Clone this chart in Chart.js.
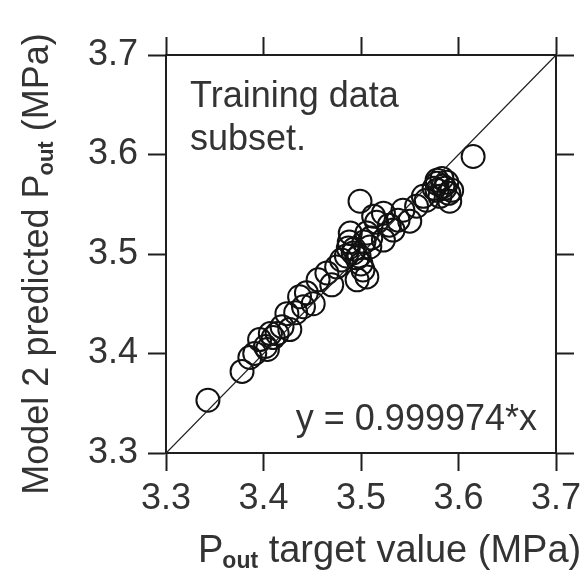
<!DOCTYPE html>
<html>
<head>
<meta charset="utf-8">
<script src="https://cdn.jsdelivr.net/npm/chart.js@4.4.1/dist/chart.umd.min.js"></script>
<style>
  html, body { margin: 0; padding: 0; background: #fff; }
  #wrap { width: 588px; height: 570px; position: relative; }
</style>
</head>
<body>
<div id="wrap"><canvas id="c" width="588" height="570"></canvas></div>
<script>
// ---- data ----
const targetValues = [
  3.343, 3.378, 3.386, 3.391, 3.396, 3.402, 3.407, 3.414, 3.419, 3.424,
  3.427, 3.437, 3.441, 3.444, 3.451, 3.456, 3.465, 3.470, 3.475, 3.480,
  3.487, 3.489, 3.492, 3.496, 3.496, 3.499, 3.502, 3.506, 3.506, 3.509,
  3.513, 3.516, 3.523, 3.523, 3.533, 3.538, 3.543, 3.550, 3.557, 3.564,
  3.567, 3.578, 3.578, 3.581, 3.583, 3.584, 3.590, 3.591, 3.593, 3.615,
  3.488, 3.493, 3.498, 3.503, 3.500, 3.510, 3.485, 3.578, 3.586, 3.588,
  3.575, 3.404, 3.410, 3.433, 3.529
];
const predictedValues = [
  3.353, 3.382, 3.396, 3.400, 3.414, 3.407, 3.420, 3.420, 3.427, 3.440,
  3.424, 3.457, 3.447, 3.461, 3.450, 3.474, 3.481, 3.469, 3.487, 3.494,
  3.506, 3.521, 3.501, 3.496, 3.474, 3.553, 3.484, 3.521, 3.477, 3.507,
  3.538, 3.532, 3.514, 3.541, 3.524, 3.534, 3.544, 3.533, 3.548, 3.558,
  3.554, 3.574, 3.564, 3.558, 3.576, 3.568, 3.561, 3.553, 3.564, 3.598,
  3.512, 3.505, 3.498, 3.512, 3.490, 3.516, 3.498, 3.571, 3.566, 3.572,
  3.566, 3.404, 3.416, 3.441, 3.529
];
const fitLineX = [3.3, 3.7];
const fitLineY = [3.2999, 3.6999];
const tickValues = [3.3, 3.4, 3.5, 3.6, 3.7];
const xTitleMain = "P";
const xTitleSub = "out";
const xTitleRest = " target value (MPa)";
const yTitleMain = "Model 2 predicted P";
const yTitleSub = "out";
const yTitleRest = " (MPa)";
const noteLines = ["Training data", "subset."];
const equationText = "y = 0.999974*x";

// ---- styling ----
const INK = '#1e1e1e';
const TEXT = '#333333';
const FONT = '"Liberation Sans", Arial, sans-serif';

const points = targetValues.map((v, i) => ({ x: v, y: predictedValues[i] }));
const linePts = fitLineX.map((v, i) => ({ x: v, y: fitLineY[i] }));

function axis(position, showLabels, size) {
  const horiz = position === 'bottom' || position === 'top';
  return {
    type: 'linear',
    position: position,
    min: tickValues[0],
    max: tickValues[tickValues.length - 1],
    afterBuildTicks: s => { s.ticks = tickValues.map(v => ({ value: v })); },
    ticks: {
      display: showLabels,
      callback: v => Number(v).toFixed(1),
      font: { family: FONT, size: 36 },
      color: TEXT,
      padding: horiz ? 6 : 10,
      maxRotation: 0,
      autoSkip: false
    },
    grid: {
      drawOnChartArea: false,
      drawTicks: true,
      tickLength: 18,
      tickWidth: 2,
      tickColor: INK
    },
    border: { display: true, color: INK, width: 2 },
    afterFit: s => { if (horiz) s.height = size; else s.width = size; }
  };
}

const annot = {
  id: 'annot',
  afterDraw(chart) {
    const ctx = chart.ctx;
    const a = chart.chartArea;
    ctx.save();
    ctx.fillStyle = TEXT;
    ctx.textBaseline = 'alphabetic';
    // notes
    ctx.font = '36px ' + FONT;
    ctx.textAlign = 'left';
    ctx.fillText(noteLines[0], a.left + 24, a.top + 52);
    ctx.fillText(noteLines[1], a.left + 24, a.top + 95);
    ctx.textAlign = 'right';
    ctx.fillText(equationText, a.right - 19, a.bottom - 23);

    // x title
    ctx.textAlign = 'left';
    let x = 198;
    const xb = 562;
    ctx.font = '38px ' + FONT;
    ctx.fillText(xTitleMain, x, xb);
    x += ctx.measureText(xTitleMain).width - 1;
    ctx.font = 'bold 23px ' + FONT;
    ctx.fillText(xTitleSub, x, xb + 6);
    x += ctx.measureText(xTitleSub).width;
    ctx.font = '38px ' + FONT;
    ctx.fillText(xTitleRest, x, xb);

    // y title (rotated)
    ctx.font = '36px ' + FONT;
    const w1 = ctx.measureText(yTitleMain).width;
    const w3 = ctx.measureText(yTitleRest).width;
    ctx.font = 'bold 22px ' + FONT;
    const w2 = ctx.measureText(yTitleSub).width;
    const total = w1 + w2 + w3 - 1;
    ctx.translate(48, 264);
    ctx.rotate(-Math.PI / 2);
    let t = -total / 2;
    ctx.font = '36px ' + FONT;
    ctx.fillText(yTitleMain, t, 0);
    t += w1 - 1;
    ctx.font = 'bold 22px ' + FONT;
    ctx.fillText(yTitleSub, t, 5);
    t += w2;
    ctx.font = '36px ' + FONT;
    ctx.fillText(yTitleRest, t, 0);
    ctx.restore();
  }
};

new Chart(document.getElementById('c'), {
  type: 'scatter',
  data: {
    datasets: [
      {
        type: 'line',
        data: linePts,
        borderColor: INK,
        borderWidth: 1.3,
        pointRadius: 0,
        fill: false,
        tension: 0,
        xAxisID: 'x',
        yAxisID: 'y'
      },
      {
        type: 'scatter',
        data: points,
        pointRadius: 11.5,
        pointBorderWidth: 2,
        pointBorderColor: '#111',
        pointBackgroundColor: 'rgba(255,255,255,0)',
        xAxisID: 'x',
        yAxisID: 'y'
      }
    ]
  },
  options: {
    responsive: false,
    animation: false,
    devicePixelRatio: 1,
    layout: { padding: 0 },
    plugins: { legend: { display: false }, tooltip: { enabled: false } },
    scales: {
      x: axis('bottom', true, 117),
      x2: axis('top', false, 55),
      y: axis('left', true, 166),
      y2: axis('right', false, 32)
    }
  },
  plugins: [annot]
});
</script>
</body>
</html>
